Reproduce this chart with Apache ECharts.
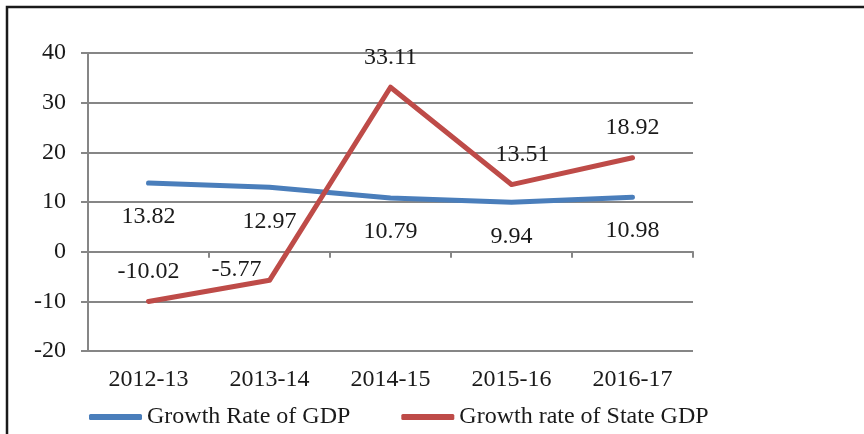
<!DOCTYPE html>
<html>
<head>
<meta charset="utf-8">
<script src="https://cdn.jsdelivr.net/npm/echarts@6/dist/echarts.min.js"></script>
<style>
  html, body { margin: 0; padding: 0; background: #fff; }
  #chart { width: 864px; height: 434px; }
</style>
</head>
<body>
<div id="chart"></div>
<script>
// categories and series values
const years = ['2012-13', '2013-14', '2014-15', '2015-16', '2016-17']
const gdpGrowth = [13.82, 12.97, 10.79, 9.94, 10.98]
const stateGdpGrowth = [-10.02, -5.77, 33.11, 13.51, 18.92]
const seriesNames = ['Growth Rate of GDP', 'Growth rate of State GDP']

const font = '"Liberation Serif", "Times New Roman", serif'
const textColor = '#1a1a1a'
const gridColor = '#868686'

let myChart = echarts.init(document.getElementById('chart'))

// 红线标签个别位置调整（-5.77 偏左下）
const stateData = stateGdpGrowth.map((v, i) => {
  if (i === 1) return { value: v, label: { offset: [-33, 19] } }
  if (i === 3) return { value: v, label: { offset: [11, 0] } }
  return v
})

let option = {
  animation: false,
  textStyle: { fontFamily: font },
  graphic: [{
    type: 'rect',
    shape: { x: 7, y: 7, width: 1000, height: 600 },
    style: { fill: 'none', stroke: '#1a1a1a', lineWidth: 2.5 }
  }],
  grid: { left: 88, right: 171, top: 53, bottom: 83 },
  legend: {
    left: 84,
    top: 400,
    icon: 'roundRect',
    itemWidth: 53,
    itemHeight: 6,
    itemGap: 51,
    data: seriesNames,
    textStyle: { fontFamily: font, fontSize: 24, color: textColor }
  },
  xAxis: [
    {
      type: 'category',
      position: 'bottom',
      data: years,
      boundaryGap: true,
      axisLine: { show: false, onZero: false },
      axisTick: { show: false },
      axisLabel: { margin: 17, fontFamily: font, fontSize: 24, color: textColor },
      splitLine: { show: false }
    },
    {
      // 零线及刻度
      type: 'category',
      position: 'bottom',
      data: years,
      boundaryGap: true,
      axisLine: { show: true, onZero: true, lineStyle: { color: gridColor, width: 2 } },
      axisTick: { show: true, length: 6, lineStyle: { color: gridColor, width: 2 } },
      axisLabel: { show: false },
      splitLine: { show: false }
    }
  ],
  yAxis: {
    type: 'value',
    min: -20,
    max: 40,
    interval: 10,
    axisLine: { show: true, lineStyle: { color: gridColor, width: 2 } },
    axisTick: { show: true, length: 7, lineStyle: { color: gridColor, width: 2 } },
    axisLabel: { margin: 22, fontFamily: font, fontSize: 24, color: textColor },
    splitLine: { show: true, lineStyle: { color: gridColor, width: 2 } }
  },
  series: [
    {
      name: seriesNames[0],
      type: 'line',
      data: gdpGrowth,
      color: '#4a7ebb',
      symbol: 'circle',
      symbolSize: 0,
      lineStyle: { width: 5, cap: 'round', join: 'round' },
      label: {
        show: true,
        position: 'bottom',
        distance: 22,
        fontFamily: font,
        fontSize: 24,
        color: textColor
      }
    },
    {
      name: seriesNames[1],
      type: 'line',
      data: stateData,
      color: '#be4b48',
      symbol: 'circle',
      symbolSize: 0,
      lineStyle: { width: 5, cap: 'round', join: 'round' },
      label: {
        show: true,
        position: 'top',
        distance: 18,
        fontFamily: font,
        fontSize: 24,
        color: textColor
      }
    }
  ]
}
myChart.setOption(option)
</script>
</body>
</html>
